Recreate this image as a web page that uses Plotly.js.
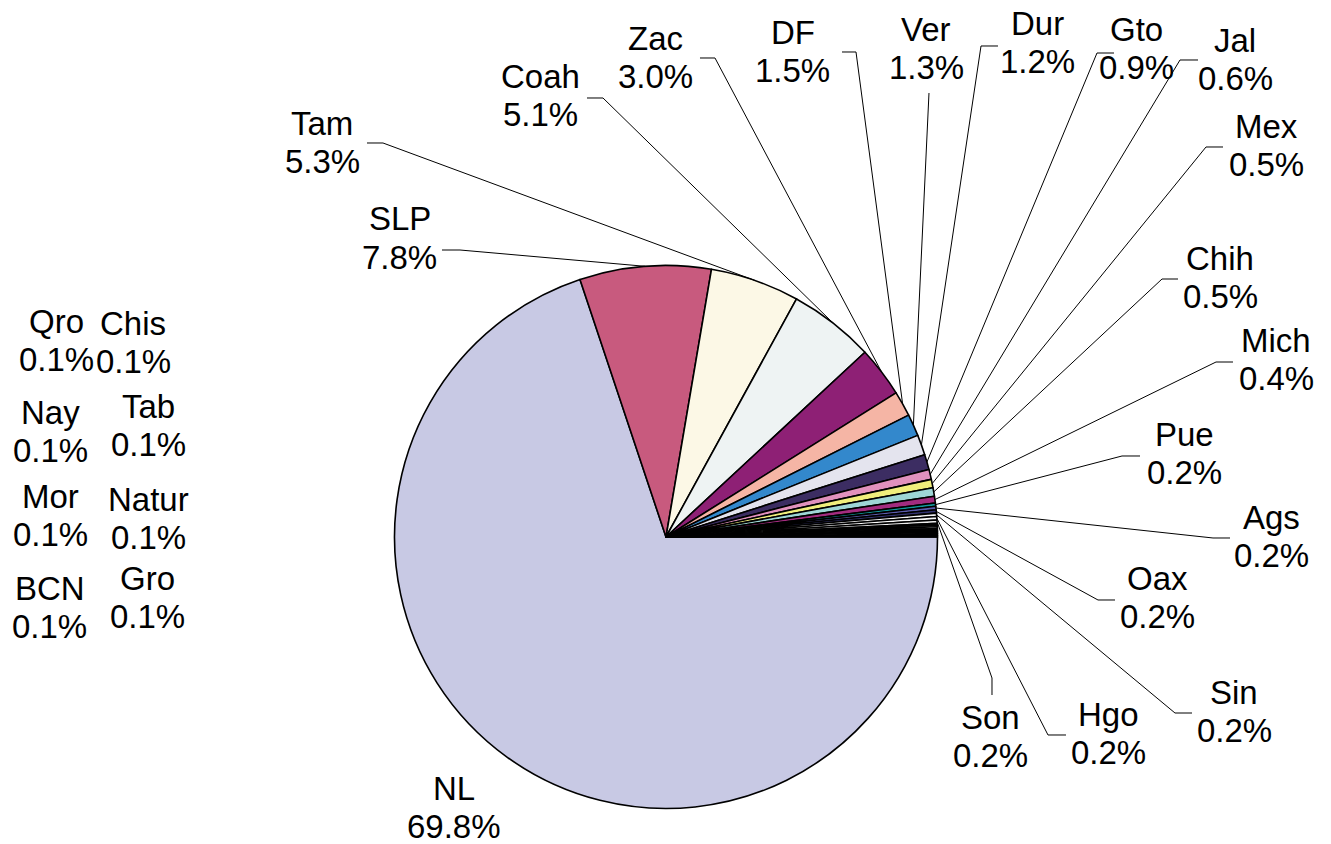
<!DOCTYPE html>
<html>
<head>
<meta charset="utf-8">
<script src="https://cdn.plot.ly/plotly-3.0.1.min.js"></script>
<style>
html,body{margin:0;padding:0;background:#ffffff;}
#chart{width:1331px;height:844px;}
</style>
</head>
<body>
<div id="chart"></div>
<script>
// ---- data ----
const labels = ['NL','SLP','Tam','Coah','Zac','DF','Ver','Dur','Gto','Jal','Mex','Chih','Mich','Pue','Ags','Oax','Sin','Hgo','Son','Qro','Chis','Nay','Tab','Mor','Natur','BCN','Gro'];
const values = [69.8,7.8,5.3,5.1,3.0,1.5,1.3,1.2,0.9,0.6,0.5,0.5,0.4,0.2,0.2,0.2,0.2,0.2,0.2,0.1,0.1,0.1,0.1,0.1,0.1,0.1,0.1];

// ---- styles ----
const colors = ['#c8c9e4','#c85a7e','#fcf8e6','#eef3f3','#8e2075','#f5b5a5','#3388cc','#e4e4ee','#3c2d62','#e191bd','#f0ee7c','#9ed6d6','#a32c7f','#12999b','#5c5cae','#343470','#f4f4f4','#fafafa','#ececec','#f6f6f6','#e8e8e8','#f8f8f8','#d8e4f4','#f4f4f4','#c8dcf0','#f8f8f8','#f3d250'];

// ---- label layout (pixel centres of each two-line label block) ----
const labelX = [454,400,322,540,655,793,926,1037,1136,1235,1266,1220,1276,1184,1271,1157,1234,1108,990,56,133,51,148,51,148,50,147];
const labelY = [807,238,142,96,57,51,49,43,48,59,145,277,360,453,536,597,711,733,736,340,343,431,425,515,518,607,597];
// leader: [x at label, y at label, x knee, y knee] ; null = no leader
const leaders = [null,[442,250,460,250],[367,143,383,143],[587,98,603,98],[700,58,715,58],[842,52,856,52],[929,93,929,93],[998,46,981,46],[1114,53,1097,53],[1198,60,1180,60],[1223,147,1206,147],[1178,279,1162,279],[1233,362,1216,362],[1140,456,1122,456],[1230,538,1213,538],[1115,600,1098,600],[1192,713,1175,713],[1066,735,1048,735],[992,695,992,678],null,null,null,null,null,null,null,null];

const W = 1331, H = 844;
const domX = [394.5/W, 937.5/W];
const domY = [1-808.5/H, 1-265.5/H];
const FONT = 'Liberation Sans, Arial, sans-serif';
const FS = 33;
const HALF = 19;

// pie geometry (from domain)
const cx = (domX[0]+domX[1])/2*W;
const cy = (1-(domY[0]+domY[1])/2)*H;
const r = Math.min((domX[1]-domX[0])*W, (domY[1]-domY[0])*H)/2;
const total = values.reduce((a,b)=>a+b,0);

const shapes = [];
const annotations = [];
let cum = 0;
for (let i=0;i<labels.length;i++){
  const mid = (cum + values[i]/2)/total;
  cum += values[i];
  const th = 2*Math.PI*mid; // clockwise from 3 o'clock (screen coords)
  const px = cx + r*Math.cos(th);
  const py = cy + r*Math.sin(th);
  const L = leaders[i];
  if (L){
    const p = (x,y)=> (x/W).toFixed(5)+','+(1-y/H).toFixed(5);
    shapes.push({type:'path', xref:'paper', yref:'paper',
      path:'M'+p(L[0],L[1])+' L'+p(L[2],L[3])+' L'+p(px,py),
      line:{color:'#000000', width:1}});
  }
  const ax = labelX[i]/W, ay = 1-labelY[i]/H;
  annotations.push({xref:'paper',yref:'paper',x:ax,y:ay,xanchor:'center',yanchor:'middle',
    yshift:HALF,showarrow:false,text:labels[i],font:{family:FONT,size:FS,color:'#000000'}});
  annotations.push({xref:'paper',yref:'paper',x:ax,y:ay,xanchor:'center',yanchor:'middle',
    yshift:-HALF,showarrow:false,text:values[i].toFixed(1)+'%',font:{family:FONT,size:FS,color:'#000000'}});
}

const trace = {
  type:'pie',
  labels: labels,
  values: values,
  sort:false,
  direction:'clockwise',
  rotation:90,
  textinfo:'none',
  hoverinfo:'label+percent',
  marker:{colors:colors, line:{color:'#000000', width:1.6}},
  domain:{x:domX, y:domY},
  showlegend:false
};

const layout = {
  width:W, height:H,
  margin:{l:0,r:0,t:0,b:0},
  paper_bgcolor:'#ffffff',
  plot_bgcolor:'#ffffff',
  showlegend:false,
  shapes:shapes,
  annotations:annotations
};

Plotly.newPlot('chart',[trace],layout,{displayModeBar:false,staticPlot:true});
</script>
</body>
</html>
